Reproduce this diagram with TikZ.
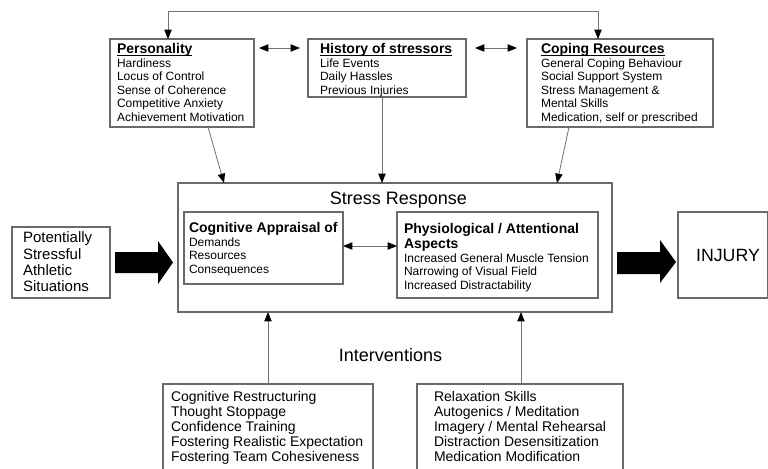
\documentclass[tikz,border=0pt]{standalone}
\usepackage{fontspec}
\setmainfont{Liberation Sans}
\usetikzlibrary{arrows.meta,calc,fit}
\definecolor{boxgray}{HTML}{6A6A6A}
\definecolor{linegray}{HTML}{707070}
\newcommand\ulx[1]{\underline{\raisebox{0pt}[\height][0pt]{#1}}}
\newcommand\tsmall{\fontsize{9}{10.125}\selectfont}
\newcommand\tbold{\fontsize{10.5}{10.125}\selectfont\bfseries}
\newcommand\tmid{\fontsize{11.25}{12.3}\selectfont}
\newcommand\tbig{\fontsize{13.5}{16}\selectfont}
\newcommand\tbot{\fontsize{10.5}{11.25}\selectfont}
\begin{document}
\begin{tikzpicture}[x=0.75pt,y=-0.75pt,
  box/.style={draw=boxgray, line width=0.8pt, inner sep=0pt, outer sep=0pt},
  txt/.style={anchor=base west, inner sep=0pt, outer sep=0pt},
  ctxt/.style={anchor=base, inner sep=0pt, outer sep=0pt},
  con/.style={draw=linegray, line width=0.6pt, -{Triangle[length=7pt,width=5.5pt,color=black]}},
  dcon/.style={draw=linegray, line width=0.6pt, {Triangle[length=7pt,width=5.5pt,color=black]}-{Triangle[length=7pt,width=5.5pt,color=black]}},
  block/.style={fill=black}
]
\useasboundingbox (0,0) rectangle (768,468);
\clip (0,0) rectangle (768,468);

% boxes
\node[box, fit={(110,39) (254,127)}] (pers) {};
\node[box, fit={(308,39) (466,97)}] (hist) {};
\node[box, fit={(527,39) (713,127)}] (cope) {};
\node[box, fit={(178,183) (612,312)}] (stress) {};
\node[box, fit={(184,212) (343,284)}] (cog) {};
\node[box, fit={(397,212) (598,298)}] (phys) {};
\node[box, fit={(12,227) (110,298)}] (pot) {};
\node[box, fit={(678,212) (767.4,298)}] (inj) {};
\node[box, fit={(163,384) (373,490)}] (intl) {};
\node[box, fit={(417,384) (623,490)}] (intr) {};

% texts
\node[txt] (perst) at (117,53.5) {\tsmall\begin{tabular}[t]{@{}l@{}}
{\tbold\ulx{Personality}}\\
Hardiness\\ Locus of Control\\ Sense of Coherence\\ Competitive Anxiety\\ Achievement Motivation
\end{tabular}};
\node[txt] (histt) at (320,53.5) {\tsmall\begin{tabular}[t]{@{}l@{}}
{\tbold\ulx{History of stressors}}\\
Life Events\\ Daily Hassles\\ Previous Injuries
\end{tabular}};
\node[txt] (copet) at (541,53.5) {\tsmall\begin{tabular}[t]{@{}l@{}}
{\tbold\ulx{Coping Resources}}\\
General Coping Behaviour\\ Social Support System\\ Stress Management \&\\ Mental Skills\\ Medication, self or prescribed
\end{tabular}};
\node[ctxt] (stresst) at (398.5,204) {\tbig Stress Response};
\node[txt] (cogt) at (189,232.5) {\tsmall\begin{tabular}[t]{@{}l@{}}
{\tbold Cognitive Appraisal of}\\
Demands\\ Resources\\ Consequences
\end{tabular}};
\node[txt] (physt) at (404,233) {\tsmall\begin{tabular}[t]{@{}l@{}}
{\tbold Physiological / Attentional}\\[1.1pt]
{\tbold Aspects}\\[0.4pt]
Increased General Muscle Tension\\ Narrowing of Visual Field\\ Increased Distractability
\end{tabular}};
\node[txt] (pott) at (23,242.7) {\tmid\begin{tabular}[t]{@{}l@{}}
Potentially\\ Stressful\\ Athletic\\ Situations
\end{tabular}};
\node[ctxt] (injt) at (728,261.5) {\fontsize{13.3}{16}\selectfont INJURY};
\node[ctxt] (intt) at (390.5,361.5) {\tbig Interventions};
\node[txt] (intlt) at (171,401) {\tbot\begin{tabular}[t]{@{}l@{}}
Cognitive Restructuring\\ Thought Stoppage\\ Confidence Training\\ Fostering Realistic Expectation\\ Fostering Team Cohesiveness
\end{tabular}};
\node[txt] (intrt) at (434,401) {\tbot\begin{tabular}[t]{@{}l@{}}
Relaxation Skills\\ Autogenics / Meditation\\ Imagery / Mental Rehearsal\\ Distraction Desensitization\\ Medication Modification
\end{tabular}};

% connectors
\draw[dcon] ($(pers.north west)+(58,0)$) -- ++(0,-28) -| ($(cope.north west)+(71,0)$);
\draw[dcon] ($(pers.north east)+(5,9)$) -- ($(hist.north west)+(-8,9)$);
\draw[dcon] ($(hist.north east)+(9,9)$) -- ($(cope.north west)+(-10,9)$);
\draw[con] ($(pers.south west)+(98,0)$) -- ($(stress.north west)+(46,0)$);
\draw[con] ($(hist.south west)+(74,0)$) -- ($(stress.north west)+(204,0)$);
\draw[con] ($(cope.south west)+(42,0)$) -- ($(stress.north west)+(379,0)$);
\draw[dcon] ($(cog.north east)+(0,34)$) -- ($(phys.north west)+(0,34)$);
\draw[con] ($(intl.north west)+(105,0)$) -- ($(stress.south west)+(90,0)$);
\draw[con] ($(intr.north west)+(104,0)$) -- ($(stress.south west)+(343,0)$);

% block arrows
\fill[block] (115,252) -- (158,252) -- (158,241) -- (173,262.5) -- (158,284) -- (158,273) -- (115,273) -- cycle;
\fill[block] (617,252) -- (660,252) -- (660,240) -- (676,262) -- (660,283) -- (660,274) -- (617,274) -- cycle;
\end{tikzpicture}
\end{document}
